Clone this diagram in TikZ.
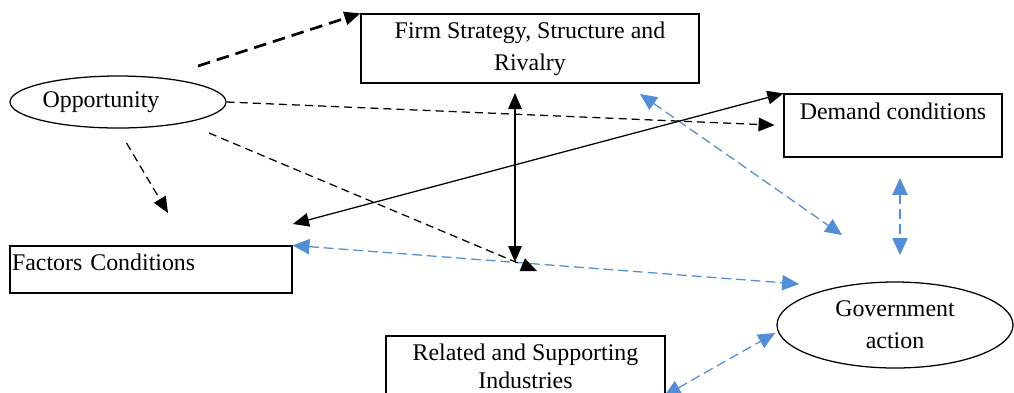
\documentclass[tikz,border=0pt]{standalone}
\usepackage{fontspec}
\setmainfont{Liberation Serif}
\usetikzlibrary{arrows.meta, shapes.geometric}
\definecolor{linkblue}{RGB}{83, 141, 213}
\newcommand{\diagfont}{\fontsize{17}{22.5}\selectfont}
\tikzset{
  box/.style={draw, line width=0.9pt, rectangle, inner sep=0.05cm, font=\diagfont, align=center},
  oval/.style={draw, line width=0.9pt, ellipse, inner sep=0pt, font=\diagfont, align=center},
  blacklink/.style={line width=0.9pt, >={Triangle[length=0.4cm, width=0.34cm]}},
  dashlink/.style={blacklink, dash pattern=on 5.7pt off 3.6pt},
  thickdash/.style={line width=1.9pt, dash pattern=on 9pt off 5pt, >={Triangle[length=0.4cm, width=0.33cm]}},
  bluelink/.style={linkblue, line width=0.9pt, dash pattern=on 7pt off 3.5pt, >={Triangle[length=0.42cm, width=0.38cm]}},
}

\begin{document}
\begin{tikzpicture}
  \useasboundingbox (0,0) rectangle (25.35,-9.8);

  % Factors
  \node[oval, minimum width=5.4cm, minimum height=1.3cm] (opp) at (2.95,-2.55) {Opportunity\hspace{0.85cm}};
  \node[box, minimum width=8.45cm, minimum height=1.725cm] (firm) at (13.25,-1.2125) {Firm Strategy, Structure and\\Rivalry};
  \node[box, minimum width=5.45cm, minimum height=1.575cm, text depth=0.725cm] (dem) at (22.325,-3.1375) {Demand conditions};
  \node[box, minimum width=7.05cm, minimum height=1.175cm, text width=6.95cm, align=left, text depth=0.38cm] (fac) at (3.775,-6.7375) {Factors Conditions};
  \node[oval, minimum width=5.9cm, minimum height=2.15cm] (gov) at (22.375,-8.125) {Government\\action};
  \node[box, minimum width=6.975cm, minimum height=1.5cm, font=\fontsize{17}{20}\selectfont] (rel) at (13.1375,-9.15) {Related and Supporting\\Industries};

  % Free ends
  \coordinate (opp-firm) at (4.95,-1.65);
  \coordinate (opp-hub) at (5.225,-3.325);
  \coordinate (hub-tip) at (13.425,-6.775);
  \coordinate (fac-tip) at (4.2,-5.325);
  \coordinate (firm-tip) at (12.875,-2.325);
  \coordinate (hub-top) at (12.875,-6.55);
  \coordinate (fac-top) at (7.325,-5.6);
  \coordinate (gov-left) at (19.975,-7.1);
  \coordinate (firm-low) at (16,-2.35);
  \coordinate (gov-up) at (21.05,-5.875);
  \coordinate (dem-low) at (22.5,-4.45);
  \coordinate (gov-top) at (22.5,-6.375);
  \coordinate (rel-corner) at (16.6,-9.9);
  \coordinate (gov-west) at (19.375,-8.325);

  % Government links
  \draw[bluelink, <->] (fac.north east) -- (gov-left);
  \draw[bluelink, <->] (firm-low) -- (gov-up);
  \draw[bluelink, <->] (dem-low) -- (gov-top);
  \draw[bluelink, <->] (rel-corner) -- (gov-west);

  % Opportunity links
  \draw[thickdash, ->] (opp-firm) -- (firm.north west);
  \draw[dashlink, ->, shorten >=0.22cm] (opp.east) -- (dem.west);
  \draw[dashlink, ->] (opp-hub) -- (hub-tip);
  \draw[dashlink, ->, shorten <=0.42cm] (opp.south) -- (fac-tip);

  % Diamond links
  \draw[blacklink, <->] (firm-tip) -- (hub-top);
  \draw[blacklink, <->] (fac-top) -- (dem.north west);
\end{tikzpicture}
\end{document}
